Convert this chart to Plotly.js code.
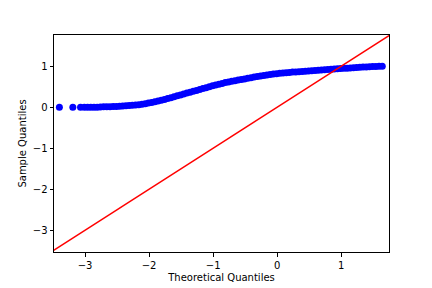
<!DOCTYPE html>
<html>
<head>
<meta charset="utf-8">
<script src="https://cdn.plot.ly/plotly-3.0.1.min.js"></script>
<style>html,body{margin:0;padding:0;background:#fff;}#chart{width:432px;height:288px;}</style>
</head>
<body>
<div id="chart"></div>
<script>
const theoreticalQuantiles = [-3.40, -3.19, -3.07, -3.01, -2.96, -2.91, -2.86, -2.81, -2.76, -2.71, -2.66, -2.61, -2.56, -2.51, -2.46, -2.41, -2.36, -2.31, -2.26, -2.21, -2.16, -2.11, -2.06, -2.01, -1.96, -1.91, -1.86, -1.81, -1.76, -1.71, -1.66, -1.61, -1.56, -1.51, -1.46, -1.41, -1.36, -1.31, -1.26, -1.21, -1.16, -1.11, -1.06, -1.01, -0.96, -0.91, -0.86, -0.81, -0.76, -0.71, -0.66, -0.61, -0.56, -0.51, -0.46, -0.41, -0.36, -0.31, -0.26, -0.21, -0.16, -0.11, -0.06, -0.01, 0.04, 0.09, 0.14, 0.19, 0.24, 0.29, 0.34, 0.39, 0.44, 0.49, 0.54, 0.59, 0.64, 0.69, 0.74, 0.79, 0.84, 0.89, 0.94, 0.99, 1.04, 1.09, 1.14, 1.19, 1.24, 1.29, 1.34, 1.39, 1.44, 1.49, 1.54, 1.59, 1.64];
const sampleQuantiles = [0.00, 0.00, 0.00, 0.00, 0.00, 0.00, 0.00, 0.00, 0.005, 0.01, 0.01, 0.013, 0.016, 0.02, 0.024, 0.028, 0.033, 0.039, 0.045, 0.053, 0.062, 0.073, 0.086, 0.10, 0.115, 0.132, 0.15, 0.17, 0.19, 0.21, 0.232, 0.255, 0.278, 0.30, 0.322, 0.344, 0.366, 0.388, 0.41, 0.432, 0.454, 0.476, 0.498, 0.52, 0.54, 0.56, 0.58, 0.60, 0.615, 0.63, 0.645, 0.66, 0.675, 0.69, 0.705, 0.72, 0.735, 0.75, 0.762, 0.774, 0.786, 0.797, 0.807, 0.817, 0.826, 0.834, 0.841, 0.848, 0.855, 0.861, 0.867, 0.873, 0.879, 0.885, 0.891, 0.897, 0.903, 0.909, 0.915, 0.921, 0.927, 0.932, 0.937, 0.942, 0.947, 0.952, 0.957, 0.962, 0.967, 0.972, 0.977, 0.982, 0.986, 0.99, 0.994, 0.997, 1.00];
const lineX = [-3.6, 1.8];
const lineY = [-3.6, 1.8];
const xTicks = [-3, -2, -1, 0, 1];
const yTicks = [-3, -2, -1, 0, 1];

const traces = [
  {x: theoreticalQuantiles, y: sampleQuantiles, type: 'scatter', mode: 'markers',
   marker: {color: '#0000ff', size: 7, line: {width: 0}}, cliponaxis: true},
  {x: lineX, y: lineY, type: 'scatter', mode: 'lines',
   line: {color: '#ff0000', width: 1.5}, cliponaxis: true}
];
const axisBase = {
  showgrid: false, zeroline: false, showline: true, mirror: true,
  linecolor: '#000', linewidth: 1, ticks: 'outside', ticklen: 3.5, tickwidth: 1,
  tickcolor: '#000', tickfont: {family: 'DejaVu Sans', size: 10, color: '#000'}
};
const layout = {
  width: 432, height: 288,
  margin: {l: 54, r: 43, t: 35, b: 36},
  paper_bgcolor: '#fff', plot_bgcolor: '#fff', showlegend: false,
  xaxis: Object.assign({}, axisBase, {range: [-3.484, 1.745], tickvals: xTicks,
    title: {text: 'Theoretical Quantiles', font: {family: 'DejaVu Sans', size: 10, color: '#000'}, standoff: 4}}),
  yaxis: Object.assign({}, axisBase, {range: [-3.53, 1.76], tickvals: yTicks,
    title: {text: 'Sample Quantiles', font: {family: 'DejaVu Sans', size: 10, color: '#000'}, standoff: 4}})
};
Plotly.newPlot('chart', traces, layout, {staticPlot: true, displayModeBar: false});
</script>
</body>
</html>
